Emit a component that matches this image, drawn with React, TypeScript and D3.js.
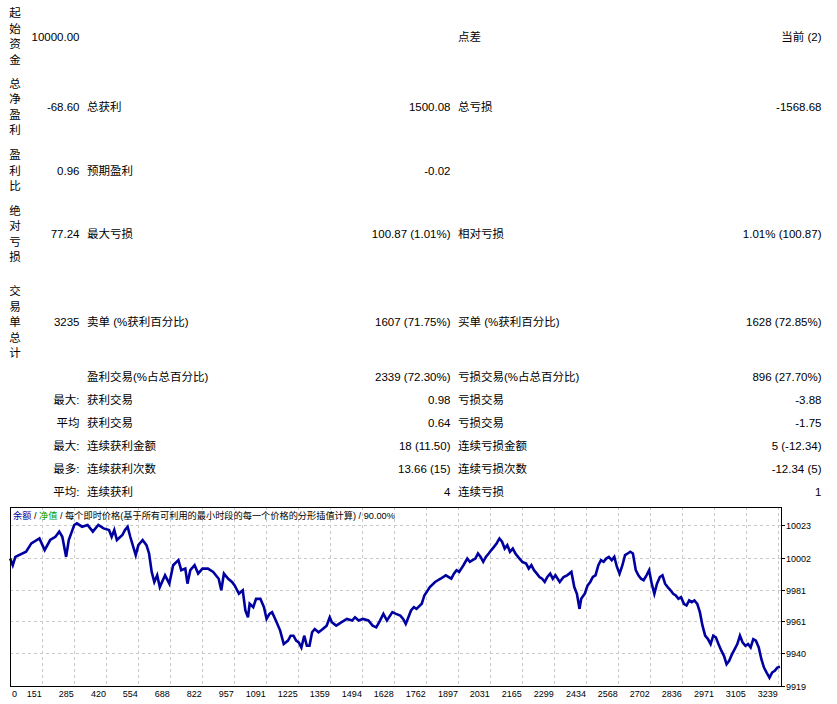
import React from "react";
import * as d3 from "d3";

// ---------- table data ----------
const col1Labels = ["起始资金", "总净盈利", "盈利比", "绝对亏损", "交易单总计", "", "", "", "", "", ""];
const col2Values = ["10000.00", "-68.60", "0.96", "77.24", "3235", "", "最大:", "平均", "最大:", "最多:", "平均:"];
const col3Labels = ["", "总获利", "预期盈利", "最大亏损", "卖单 (%获利百分比)", "盈利交易(%占总百分比)", "获利交易", "获利交易", "连续获利金额", "连续获利次数", "连续获利"];
const col4Values = ["", "1500.08", "-0.02", "100.87 (1.01%)", "1607 (71.75%)", "2339 (72.30%)", "0.98", "0.64", "18 (11.50)", "13.66 (15)", "4"];
const col5Labels = ["点差", "总亏损", "", "相对亏损", "买单 (%获利百分比)", "亏损交易(%占总百分比)", "亏损交易", "亏损交易", "连续亏损金额", "连续亏损次数", "连续亏损"];
const col6Values = ["当前 (2)", "-1568.68", "", "1.01% (100.87)", "1628 (72.85%)", "896 (27.70%)", "-3.88", "-1.75", "5 (-12.34)", "-12.34 (5)", "1"];

// ---------- chart data ----------
const tradeIdx = [
  16, 27, 38, 83, 105, 139, 161, 184, 206, 222, 235, 251, 262, 285, 296, 318, 341, 363, 386, 408,
  431, 442, 453, 464, 487, 498, 509, 520, 543, 554, 572, 588, 599, 610, 621, 633, 644, 666, 684, 700,
  722, 734, 751, 760, 772, 790, 805, 823, 846, 868, 891, 902, 913, 931, 947, 958, 976, 992, 1003, 1014,
  1021, 1036, 1048, 1066, 1081, 1092, 1104, 1115, 1131, 1149, 1164, 1182, 1193, 1205, 1216, 1227, 1238, 1250, 1261, 1272,
  1283, 1294, 1310, 1328, 1344, 1357, 1366, 1384, 1407, 1429, 1451, 1463, 1478, 1496, 1519, 1537, 1552, 1568, 1582, 1597,
  1620, 1635, 1653, 1665, 1676, 1687, 1698, 1710, 1721, 1743, 1754, 1777, 1799, 1822, 1844, 1867, 1878, 1889, 1900, 1918,
  1934, 1945, 1956, 1968, 1979, 1990, 2001, 2012, 2024, 2035, 2046, 2057, 2069, 2080, 2091, 2102, 2113, 2125, 2136, 2147,
  2165, 2181, 2192, 2203, 2214, 2226, 2237, 2248, 2259, 2270, 2282, 2293, 2304, 2322, 2338, 2353, 2371, 2383, 2394, 2405,
  2412, 2427, 2439, 2450, 2461, 2472, 2484, 2495, 2506, 2517, 2528, 2540, 2551, 2562, 2573, 2585, 2596, 2607, 2618, 2629,
  2641, 2652, 2663, 2674, 2686, 2697, 2708, 2719, 2730, 2742, 2753, 2764, 2775, 2787, 2798, 2809, 2820, 2831, 2843, 2854,
  2865, 2876, 2887, 2899, 2910, 2921, 2932, 2944, 2955, 2966, 2977, 2988, 3000, 3011, 3022, 3033, 3045, 3056, 3067, 3078,
  3089, 3101, 3112, 3123, 3134, 3145, 3157, 3168, 3179, 3190, 3202, 3213, 3224, 3235, 3246,
];
const balance = [
  10001.3, 9997.0, 10002.4, 10005.7, 10011.1, 10014.3, 10006.8, 10013.3, 10015.4, 10018.7, 10015.4, 10002.4, 10013.3, 10023.0, 10024.1, 10021.9, 10023.0, 10018.7, 10023.0, 10020.8,
  10019.8, 10015.4, 10019.8, 10013.3, 10016.5, 10019.8, 10021.9, 10015.4, 10003.5, 10010.0, 10013.3, 10010.0, 10004.6, 9992.7, 9986.2, 9990.5, 9982.9, 9990.5, 9985.1, 9997.0,
  10000.3, 9993.8, 9994.8, 9985.1, 9993.8, 9997.0, 9991.6, 9994.8, 9994.8, 9992.7, 9988.3, 9980.8, 9991.6, 9988.3, 9986.2, 9984.0, 9978.6, 9980.8, 9967.8, 9963.4,
  9972.1, 9969.9, 9975.3, 9975.3, 9969.9, 9962.3, 9965.6, 9966.7, 9961.3, 9954.8, 9946.1, 9948.3, 9951.5, 9951.5, 9948.3, 9947.2, 9943.9, 9951.5, 9945.0, 9945.0,
  9953.7, 9955.8, 9953.7, 9955.8, 9958.0, 9963.4, 9960.2, 9958.0, 9960.2, 9962.3, 9961.3, 9963.4, 9961.3, 9962.3, 9961.3, 9958.0, 9956.9, 9961.3, 9965.6, 9961.3,
  9966.7, 9965.6, 9964.5, 9962.3, 9959.1, 9963.4, 9967.8, 9969.9, 9968.8, 9972.1, 9977.5, 9982.9, 9986.2, 9988.3, 9990.5, 9988.3, 9991.6, 9993.8, 9992.7, 9997.0,
  10001.3, 9999.2, 10000.3, 10001.3, 10004.6, 10002.4, 9999.2, 10002.4, 10004.6, 10006.8, 10008.9, 10011.1, 10014.3, 10012.2, 10007.8, 10010.0, 10005.7, 10007.8, 10004.6, 10002.4,
  9999.2, 9998.1, 9994.8, 9997.0, 9993.8, 9991.6, 9989.4, 9988.3, 9986.2, 9989.4, 9991.6, 9988.3, 9990.5, 9986.2, 9989.4, 9990.5, 9992.7, 9982.9, 9978.6, 9968.8,
  9975.3, 9978.6, 9984.0, 9986.2, 9989.4, 9990.5, 9997.0, 10000.3, 9999.2, 10001.3, 10002.4, 10000.3, 10002.4, 9995.9, 9991.6, 9997.0, 10003.5, 10004.6, 10005.7, 10004.6,
  9993.8, 9990.5, 9988.3, 9987.3, 9990.5, 9993.8, 9985.1, 9978.6, 9985.1, 9989.4, 9990.5, 9985.1, 9982.9, 9980.8, 9978.6, 9977.5, 9975.3, 9976.4, 9972.1, 9971.0,
  9974.3, 9973.2, 9974.3, 9972.1, 9966.7, 9958.0, 9951.5, 9949.3, 9946.1, 9951.5, 9950.4, 9946.1, 9941.8, 9938.5, 9933.1, 9935.3, 9939.6, 9942.8, 9946.1, 9951.5,
  9947.2, 9945.0, 9946.1, 9943.9, 9949.3, 9948.3, 9943.9, 9936.3, 9930.9, 9927.7, 9924.4, 9927.7, 9928.8, 9930.9, 9931.4,
];

const xTickValues = [151, 285, 420, 554, 688, 822, 957, 1091, 1225, 1359, 1494, 1628, 1762, 1897, 2031, 2165, 2299, 2434, 2568, 2702, 2836, 2971, 3105, 3239];
const yTickValues = [9919, 9940, 9961, 9981, 10002, 10023];
const legendParts = ["余额", " / ", "净值", " / 每个即时价格(基于所有可利用的最小时段的每一个价格的分形插值计算) / 90.00%"];

const W = 837;
const H = 704;

export default function App() {
  const left = 10, right = 781, top = 507, bottom = 686;
  const x = d3.scaleLinear().domain([151, 3239]).range([42.3, 778.3]);
  const y = d3.scaleLinear().domain([9919, 10023]).range([686, 525]);
  const line = d3
    .line<number>()
    .x((_, i) => x(tradeIdx[i]))
    .y((d) => y(d));

  const rowY = [36.5, 107, 170.5, 233.8, 322, 376.5, 399.5, 422.5, 445.5, 468.5, 491.5];
  const font = "'Liberation Sans', 'Noto Sans CJK SC', sans-serif";
  const fs = 11.5;
  const charStep = 15.5;

  return (
    <div style={{ position: "absolute", left: 0, top: 0 }}>
      <svg width={W} height={H} style={{ display: "block", background: "#fff" }} fontFamily={font}>
        {/* table */}
        <g fontSize={fs} fill="#000">
          {col1Labels.map((lab, r) => {
            const chars = Array.from(lab);
            const n = chars.length;
            return chars.map((c, k) => (
              <text key={`c1-${r}-${k}`} x={15} y={rowY[r] + (k - (n - 1) / 2) * charStep} textAnchor="middle" dominantBaseline="central">
                {c}
              </text>
            ));
          })}
          {col2Values.map((v, r) => (
            <text key={`c2-${r}`} x={79.5} y={rowY[r]} textAnchor="end" dominantBaseline="central">{v}</text>
          ))}
          {col3Labels.map((v, r) => (
            <text key={`c3-${r}`} x={87} y={rowY[r]} dominantBaseline="central">{v}</text>
          ))}
          {col4Values.map((v, r) => (
            <text key={`c4-${r}`} x={450.5} y={rowY[r]} textAnchor="end" dominantBaseline="central">{v}</text>
          ))}
          {col5Labels.map((v, r) => (
            <text key={`c5-${r}`} x={458} y={rowY[r]} dominantBaseline="central">{v}</text>
          ))}
          {col6Values.map((v, r) => (
            <text key={`c6-${r}`} x={821.5} y={rowY[r]} textAnchor="end" dominantBaseline="central">{v}</text>
          ))}
        </g>

        {/* chart grid */}
        <g stroke="#c8c8c8" strokeDasharray="3,3" strokeWidth={1}>
          {xTickValues.map((t) => (
            <line key={`gx-${t}`} x1={Math.round(x(t)) + 0.5} x2={Math.round(x(t)) + 0.5} y1={top} y2={bottom} />
          ))}
          {yTickValues.slice(1).map((t) => (
            <line key={`gy-${t}`} x1={left} x2={right} y1={Math.round(y(t)) + 0.5} y2={Math.round(y(t)) + 0.5} />
          ))}
        </g>

        {/* legend */}
        <text x={13} y={516} fontSize={9.2} dominantBaseline="central">
          <tspan fill="#0000a0">{legendParts[0]}</tspan>
          <tspan fill="#000">{legendParts[1]}</tspan>
          <tspan fill="#00a000">{legendParts[2]}</tspan>
          <tspan fill="#000">{legendParts[3]}</tspan>
        </text>

        {/* balance line */}
        <path d={line(balance) || ""} fill="none" stroke="#0000a0" strokeWidth={2.6} strokeLinejoin="miter" />

        {/* frame */}
        <rect x={left + 0.5} y={top + 0.5} width={right - left} height={bottom - top} fill="none" stroke="#000" strokeWidth={1} />

        {/* y axis ticks & labels */}
        {yTickValues.map((t) => (
          <g key={`yt-${t}`}>
            <line x1={right + 0.5} x2={right + 4} y1={Math.round(y(t)) + 0.5} y2={Math.round(y(t)) + 0.5} stroke="#000" />
            <text x={786} y={y(t) + 1} fontSize={9} dominantBaseline="central">{t}</text>
          </g>
        ))}

        {/* x axis labels */}
        <text x={12} y={697} fontSize={9}>0</text>
        {xTickValues.map((t) => (
          <text key={`xl-${t}`} x={x(t) - 0.5} y={697} fontSize={9} textAnchor="end">{t}</text>
        ))}
      </svg>
    </div>
  );
}
